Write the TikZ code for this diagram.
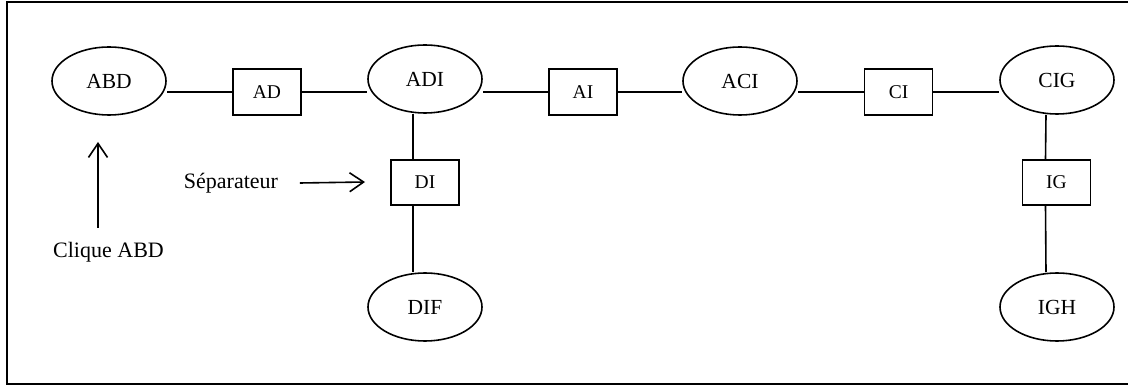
\documentclass[tikz,border=0pt]{standalone}
\usepackage{fontspec}
\setmainfont{Liberation Serif}
\usetikzlibrary{shapes.geometric,arrows.meta}
\tikzset{
  clique/.style={draw,ellipse,line width=1.6pt,inner sep=0pt,minimum width=114pt,minimum height=68pt,font=\fontsize{21.5}{25}\selectfont},
  sepbox/.style={draw,rectangle,line width=1.6pt,inner sep=0pt,minimum width=68pt,minimum height=46pt,font=\fontsize{19.5}{23}\selectfont},
  note/.style={inner sep=0pt,font=\fontsize{22}{26}\selectfont},
  pointer/.style={line width=1.6pt,-{Straight Barb[length=14pt,width=19pt,line width=1.6pt]}}
}
\begin{document}
\begin{tikzpicture}[x=1pt,y=-1pt,line width=1.6pt]
\useasboundingbox (0,0) rectangle (1128,387);
\draw[line width=1.8pt] (1128,2) -- (7,2) -- (7,384) -- (1128,384);
% cliques
\node[clique] (ABD) at (109,81) {ABD};
\node[clique] (ADI) at (425,79) {ADI};
\node[clique] (ACI) at (740,81) {ACI};
\node[clique] (CIG) at (1057,80) {CIG};
\node[clique] (DIF) at (425,307) {DIF};
\node[clique] (IGH) at (1057,307) {IGH};
% separateurs
\node[sepbox] (AD) at (267,92) {AD};
\node[sepbox] (AI) at (583,92) {AI};
\node[sepbox] (CI) at (898.5,92) {CI};
\node[sepbox,minimum height=45pt] (DI) at (425,182.5) {DI};
\node[sepbox,minimum height=45pt] (IG) at (1056.5,182.5) {IG};
\draw (AD.west) -- (AD.west -| ABD.east);
\draw (AD.east) -- (AD.east -| ADI.west);
\draw (AI.west) -- (AI.west -| ADI.east);
\draw (AI.east) -- (AI.east -| ACI.west);
\draw (CI.west) -- (CI.west -| ACI.east);
\draw (CI.east) -- (CI.east -| CIG.west);
\draw ([xshift=-12pt]ADI.south) -- ([xshift=-12pt]DI.north);
\draw ([xshift=-12pt]DI.south) -- ([xshift=-12pt]DIF.north);
\draw ([xshift=-11pt]CIG.south) -- ([xshift=-11pt]IG.north);
\draw ([xshift=-11pt]IG.south) -- ([xshift=-11pt]IGH.north);
% legendes
\node[note] (sep) at (231,183) {Séparateur};
\node[note] (cliq) at (108.5,252) {Clique ABD};
\coordinate (septip) at (365,182);
\coordinate (cliqfoot) at (98,228);
\coordinate (cliqtip) at (98,142);
\draw[pointer] ([xshift=21pt]sep.east) -- (septip);
\draw[pointer] (cliqfoot) -- (cliqtip);
\end{tikzpicture}
\end{document}
